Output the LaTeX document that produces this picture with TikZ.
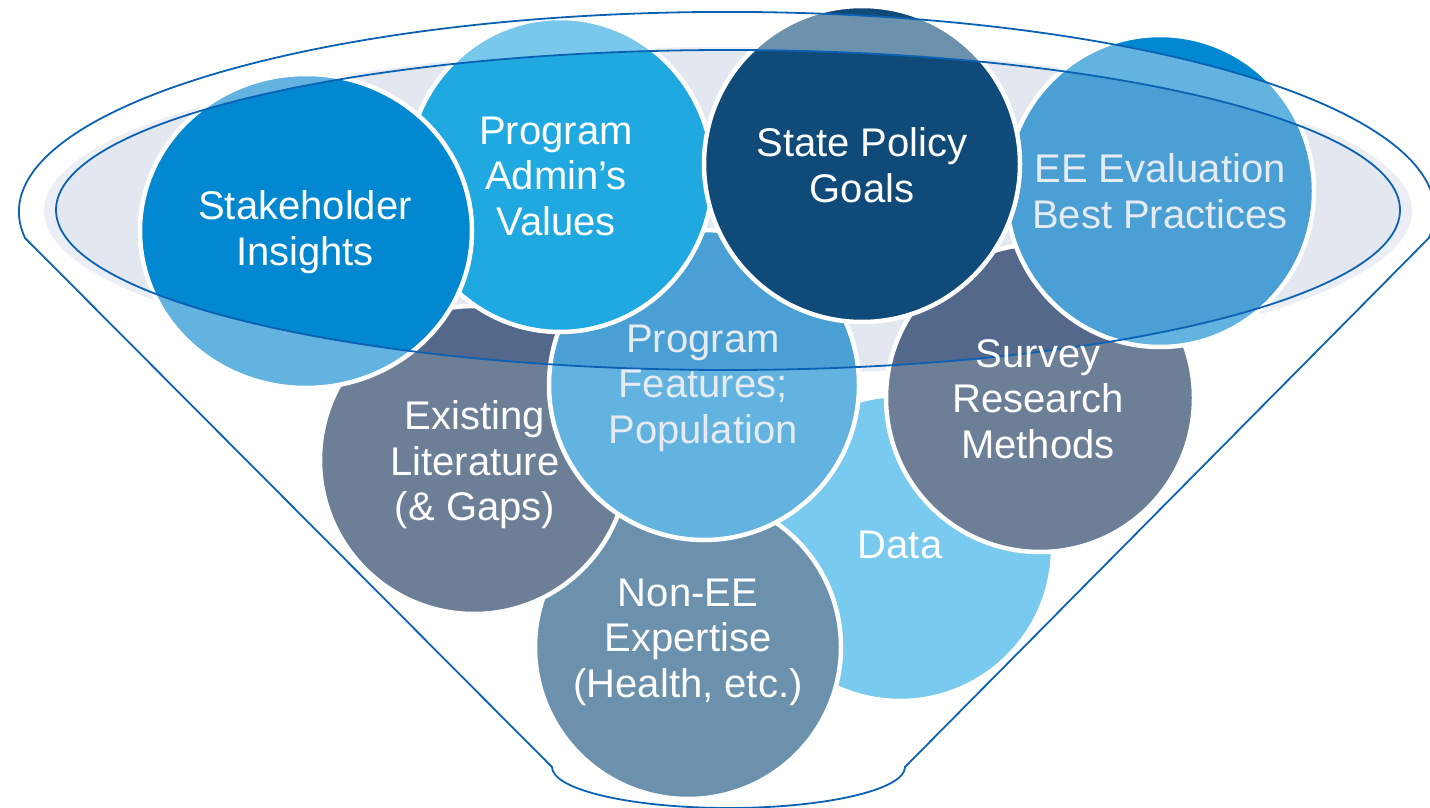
\documentclass[tikz,border=0pt]{standalone}
\usepackage{fontspec}
\setmainfont{Liberation Sans}
\usepackage{tikz}

\definecolor{funnelline}{HTML}{0B62B4}
\definecolor{rimfill}{HTML}{E3E8F0}
\definecolor{rimglow}{HTML}{EBEEF5}
\definecolor{skyblue}{HTML}{78CAEE}
\definecolor{greyblue}{HTML}{6B91AD}
\definecolor{slategrey}{HTML}{6C7F97}
\definecolor{slatedark}{HTML}{53688A}
\definecolor{paleblue}{HTML}{62B3E0}
\definecolor{midblue}{HTML}{4A9FD5}
\definecolor{lightcyan}{HTML}{79C8EC}
\definecolor{cyanblue}{HTML}{20A8E0}
\definecolor{deepblue}{HTML}{0288D0}
\definecolor{navyblue}{HTML}{0F4A79}
\definecolor{softwhite}{HTML}{E6EAF1}

% funnel outline and the rim of the funnel
\newcommand{\funnelpath}{(25,238) arc[start angle=172.5,end angle=367.5,x radius=708,y radius=200]
  -- (905,767) arc[start angle=0,end angle=180,x radius=176.5,y radius=41] -- cycle}
\newcommand{\rimpath}{(728,210) ellipse[x radius=672,y radius=160]}

\begin{document}
\begin{tikzpicture}[x=1pt,y=-1pt]
\useasboundingbox (0,0) rectangle (1430,808);

\fill[rimglow] (728,211) ellipse[x radius=684,y radius=164];
\fill[rimfill] \rimpath;

% bubbles, back to front: centre / radii / colour outside, in funnel, in rim
\foreach \cx/\cy/\rx/\ry/\base/\ring/\core in {
    900/548/153/153/skyblue/skyblue/skyblue,
    688/647/153/152/greyblue/greyblue/greyblue,
    474/460/154/154/slategrey/slategrey/slatedark,
    704/385/155/155/paleblue/paleblue/midblue,
    560/175/153/157/lightcyan/lightcyan/cyanblue,
    306/231/166/157/paleblue/paleblue/deepblue,
    1040/398/154/154/slategrey/slategrey/slatedark,
    1160/191/154/156/deepblue/paleblue/midblue,
    862/164/158/158/navyblue/greyblue/navyblue}{
  \fill[\base] (\cx,\cy) ellipse[x radius=\rx,y radius=\ry];
  \begin{scope}
    \clip \funnelpath;
    \fill[\ring] (\cx,\cy) ellipse[x radius=\rx,y radius=\ry];
  \end{scope}
  \begin{scope}
    \clip \rimpath;
    \fill[\core] (\cx,\cy) ellipse[x radius=\rx,y radius=\ry];
  \end{scope}
  \draw[white,line width=4.5] (\cx,\cy) ellipse[x radius=\rx,y radius=\ry];
}

\draw[funnelline,line width=1.8] \rimpath;
\draw[funnelline,line width=1.8] \funnelpath;

\begin{scope}[every node/.style={text=white,align=center,inner sep=0,
              font=\fontsize{40}{45.5}\selectfont}]
    \node (Data) at (900,545) {Data};
    \node (NonEE) at (688,642) {Non-EE\\Expertise\\(Health, etc.)};
    \node (Literature) at (475,465) {Existing\\Literature\\(\& Gaps)};
    \node[text=softwhite] (Features) at (703,388) {Program\\Features;\\Population};
    \node (AdminValues) at (556,176) {Program\\Admin’s\\Values};
    \node (Stakeholder) at (305,232) {Stakeholder\\Insights};
    \node (Survey) at (1038,399) {Survey\\Research\\Methods};
    \node[text=softwhite] (BestPractices) at (1160,191) {EE Evaluation\\Best Practices};
    \node (PolicyGoals) at (862,165) {State Policy\\Goals};
    \end{scope}

\end{tikzpicture}
\end{document}
